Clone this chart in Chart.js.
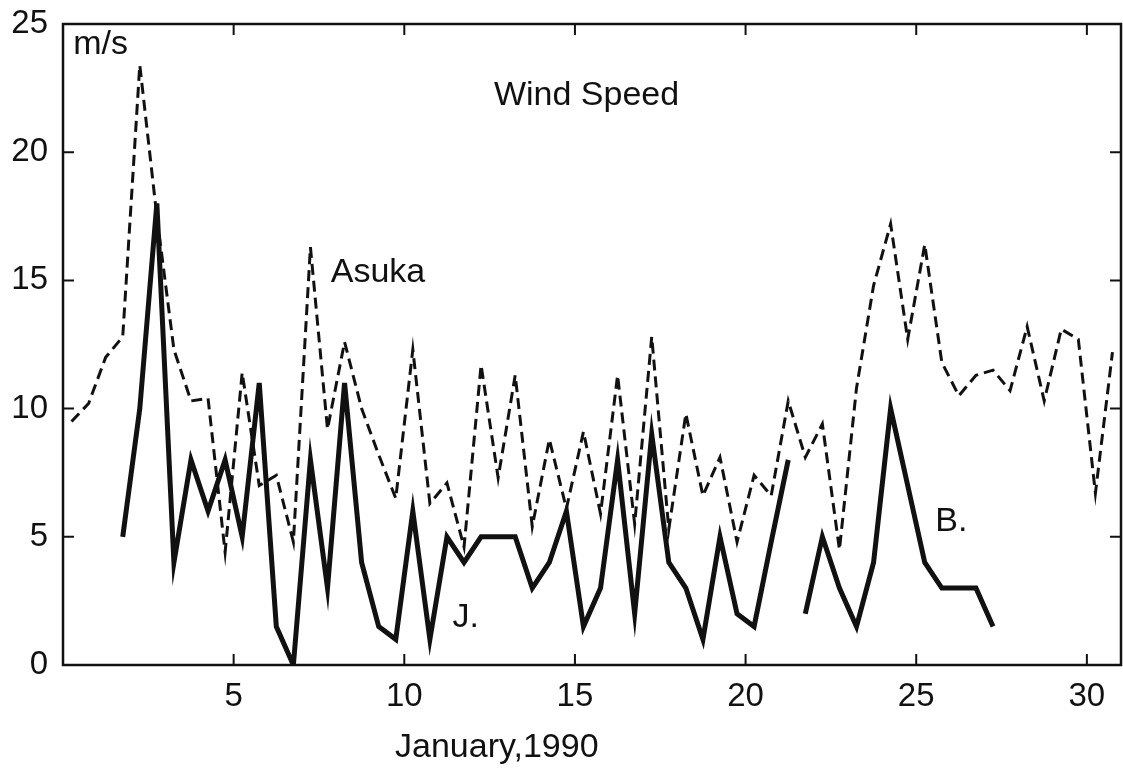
<!DOCTYPE html>
<html lang="en">
<head>
    <meta charset="UTF-8">
    <title>Wind Speed, January 1990</title>
    <script src="https://cdn.jsdelivr.net/npm/chart.js"></script>
    <style>
        body {
            margin: 0;
            background: #fff;
        }
        canvas {
            display: block;
        }
    </style>
</head>
<body>
    <canvas id="windChart" width="1123" height="771"></canvas>
    <script>
        // observation times (day of January 1990), every 12 hours
        const times = [
            0.25, 0.75, 1.25, 1.75, 2.25, 2.75, 3.25, 3.75, 4.25, 4.75,
            5.25, 5.75, 6.25, 6.75, 7.25, 7.75, 8.25, 8.75, 9.25, 9.75,
            10.25, 10.75, 11.25, 11.75, 12.25, 12.75, 13.25, 13.75, 14.25, 14.75,
            15.25, 15.75, 16.25, 16.75, 17.25, 17.75, 18.25, 18.75, 19.25, 19.75,
            20.25, 20.75, 21.25, 21.75, 22.25, 22.75, 23.25, 23.75, 24.25, 24.75,
            25.25, 25.75, 26.25, 26.75, 27.25, 27.75, 28.25, 28.75, 29.25, 29.75,
            30.25, 30.75
        ];

        const xTicks = [5, 10, 15, 20, 25, 30];
        const yTicks = [0, 5, 10, 15, 20, 25];

        // wind speed (m/s)
        const asuka = [
            9.5, 10.2, 12.0, 12.8, 23.4, 17.5, 12.3, 10.3, 10.4, 4.4,
            11.4, 7.0, 7.4, 4.8, 16.3, 9.2, 12.6, 10.0, 8.2, 6.5,
            12.3, 6.3, 7.1, 4.6, 11.7, 7.3, 11.3, 5.4, 8.8, 6.1,
            9.1, 5.9, 11.3, 5.5, 12.8, 5.3, 9.8, 6.6, 8.1, 4.8,
            7.4, 6.6, 10.3, 8.1, 9.4, 4.5, 10.8, 14.8, 17.2, 12.7,
            16.4, 11.8, 10.5, 11.3, 11.5, 10.7, 13.2, 10.3, 13.1, 12.7,
            6.7, 12.2
        ];

        const jStation = [
            null, null, null, 5, 10, 18, 4, 8, 6, 8,
            5, 11, 1.5, 0, 8, 3, 11, 4, 1.5, 1,
            6, 1, 5, 4, 5, 5, 5, 3, 4, 6,
            1.5, 3, 8, 2, 9, 4, 3, 1, 5, 2,
            1.5, 4.8, 8, null, null, null, null, null, null, null,
            null, null, null, null, null, null, null, null, null, null,
            null, null
        ];

        const bStation = [
            null, null, null, null, null, null, null, null, null, null,
            null, null, null, null, null, null, null, null, null, null,
            null, null, null, null, null, null, null, null, null, null,
            null, null, null, null, null, null, null, null, null, null,
            null, null, null, 2, 5, 3, 1.5, 4, 10, 7,
            4, 3, 3, 3, 1.5, null, null, null, null, null,
            null, null
        ];

        // text placed in data coordinates
        const notes = [
            { text: 'm/s', x: 0.3, y: 24.2, align: 'left' },
            { text: 'Wind Speed', x: 15.34, y: 22.2, align: 'center' },
            { text: 'Asuka', x: 9.23, y: 15.3, align: 'center' },
            { text: 'J.', x: 11.8, y: 1.83, align: 'center' },
            { text: 'B.', x: 26.03, y: 5.58, align: 'center' }
        ];

        const FONT = '"Liberation Sans", Arial, sans-serif';

        function toPoints(values) {
            return times.map((t, i) => ({ x: t, y: values[i] }));
        }

        // box around the plot, inward ticks on all four sides, labels
        const framePlugin = {
            id: 'frame',
            afterDatasetsDraw(chart) {
                const { ctx, chartArea: a, scales } = chart;
                const len = 11;
                ctx.save();
                ctx.strokeStyle = '#111';
                ctx.lineWidth = 2.5;
                ctx.strokeRect(a.left, a.top, a.right - a.left, a.bottom - a.top);

                ctx.lineWidth = 2;
                ctx.beginPath();
                xTicks.forEach(v => {
                    const px = scales.x.getPixelForValue(v);
                    ctx.moveTo(px, a.bottom);
                    ctx.lineTo(px, a.bottom - len);
                    ctx.moveTo(px, a.top);
                    ctx.lineTo(px, a.top + len);
                });
                yTicks.forEach(v => {
                    if (v <= 0 || v >= 25) return;
                    const py = scales.y.getPixelForValue(v);
                    ctx.moveTo(a.left, py);
                    ctx.lineTo(a.left + len, py);
                    ctx.moveTo(a.right, py);
                    ctx.lineTo(a.right - len, py);
                });
                ctx.stroke();

                ctx.fillStyle = '#111';
                ctx.textBaseline = 'middle';
                ctx.font = '34px ' + FONT;
                notes.forEach(n => {
                    ctx.textAlign = n.align;
                    ctx.fillText(n.text, scales.x.getPixelForValue(n.x), scales.y.getPixelForValue(n.y));
                });

                ctx.font = '34px ' + FONT;
                ctx.textAlign = 'center';
                ctx.fillText('January,1990', scales.x.getPixelForValue(12.71), a.bottom + 83);
                ctx.restore();
            }
        };

        const ctx = document.getElementById('windChart').getContext('2d');
        const windChart = new Chart(ctx, {
            type: 'line',
            data: {
                datasets: [
                    {
                        label: 'Asuka',
                        data: toPoints(asuka),
                        borderColor: '#111',
                        borderWidth: 3,
                        borderDash: [11, 6],
                        pointRadius: 0,
                        fill: false
                    },
                    {
                        label: 'J.',
                        data: toPoints(jStation),
                        borderColor: '#111',
                        borderWidth: 5,
                        pointRadius: 0,
                        fill: false
                    },
                    {
                        label: 'B.',
                        data: toPoints(bStation),
                        borderColor: '#111',
                        borderWidth: 5,
                        pointRadius: 0,
                        fill: false
                    }
                ]
            },
            options: {
                responsive: false,
                devicePixelRatio: 1,
                animation: false,
                spanGaps: false,
                layout: {
                    padding: { top: 24, right: 2, left: 0, bottom: 0 }
                },
                plugins: {
                    legend: { display: false },
                    tooltip: { enabled: false }
                },
                scales: {
                    x: {
                        type: 'linear',
                        min: 0,
                        max: 31,
                        grid: { display: false, drawTicks: false },
                        border: { display: false },
                        afterBuildTicks: s => { s.ticks = xTicks.map(v => ({ value: v })); },
                        ticks: {
                            padding: 12,
                            color: '#111',
                            font: { family: FONT, size: 33 },
                            maxRotation: 0
                        },
                        afterFit: s => {
                            s.height = 106;
                            s.paddingLeft = 0;
                            s.paddingRight = 0;
                        }
                    },
                    y: {
                        min: 0,
                        max: 25,
                        grid: { display: false, drawTicks: false },
                        border: { display: false },
                        afterBuildTicks: s => { s.ticks = yTicks.map(v => ({ value: v })); },
                        ticks: {
                            padding: 15,
                            color: '#111',
                            font: { family: FONT, size: 33 }
                        },
                        afterFit: s => {
                            s.width = 63;
                            s.paddingTop = 0;
                            s.paddingBottom = 0;
                        }
                    }
                }
            },
            plugins: [framePlugin]
        });
    </script>
</body>
</html>
